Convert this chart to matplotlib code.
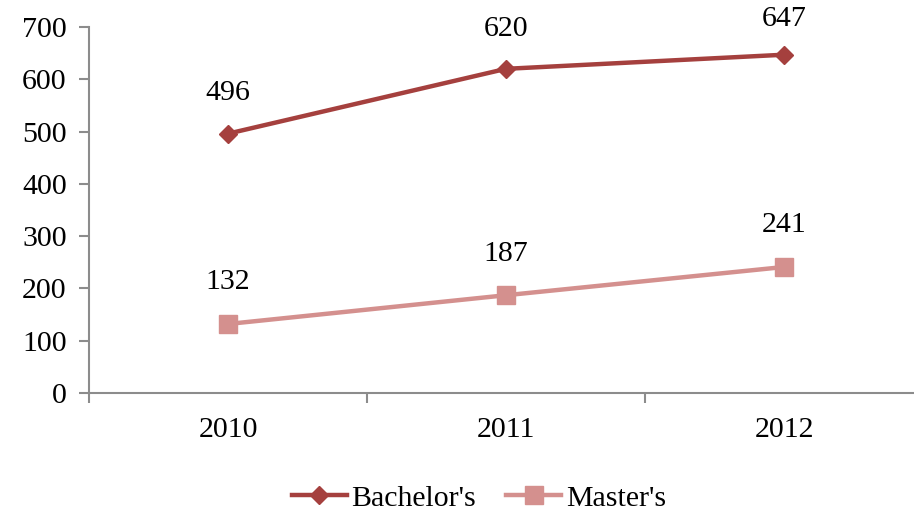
import matplotlib.pyplot as plt

years = ["2010", "2011", "2012"]
bachelors = [496, 620, 647]
masters = [132, 187, 241]

plt.rcParams["font.family"] = ["Liberation Serif", "DejaVu Serif"]

fig = plt.figure(figsize=(9.14, 5.14), dpi=100)
ax = fig.add_axes([89 / 914, 1 - 393 / 514, (913 - 89) / 914, (393 - 27) / 514])

x = list(range(len(years)))
ax.plot(x, bachelors, color="#A5403E", linewidth=3.2, marker="D", markersize=9.5,
        label="Bachelor's", clip_on=False)
ax.plot(x, masters, color="#D4908E", linewidth=3.2, marker="s", markersize=13,
        label="Master's", clip_on=False)

# label offsets in points (the top one is nudged down to stay inside the figure)
bach_offsets = [29, 29, 26]
mast_offsets = [30, 30, 30]
for xi, v, off in zip(x, bachelors, bach_offsets):
    ax.annotate(str(v), (xi, v), xytext=(0, off), textcoords="offset points",
                ha="center", va="center", fontsize=21.5)
for xi, v, off in zip(x, masters, mast_offsets):
    ax.annotate(str(v), (xi, v), xytext=(0, off), textcoords="offset points",
                ha="center", va="center", fontsize=21.5)

ax.set_ylim(0, 700)
ax.set_yticks(range(0, 701, 100))
ax.set_xlim(-0.5, 2.464)
ax.set_xticks([-0.5, 0.5, 1.5])
ax.set_xticklabels([])
ax.set_xticks(x, minor=True)
ax.set_xticklabels(years, minor=True)
ax.tick_params(axis="x", which="minor", length=0, pad=17, labelsize=21.5)
ax.tick_params(axis="x", which="major", length=7, color="#8C8C8C", width=1.5)
ax.tick_params(axis="y", length=7, color="#8C8C8C", width=1.5, labelsize=21.5, pad=9)

for side in ["top", "right"]:
    ax.spines[side].set_visible(False)
for side in ["left", "bottom"]:
    ax.spines[side].set_color("#8C8C8C")
    ax.spines[side].set_linewidth(1.5)

fig.legend(loc="lower center", bbox_to_anchor=(0.524, -0.048), ncol=2, frameon=False,
           fontsize=21.5, handlelength=1.85, handletextpad=0.15, columnspacing=1.0)

fig.savefig("out.png", dpi=100)
plt.close(fig)
